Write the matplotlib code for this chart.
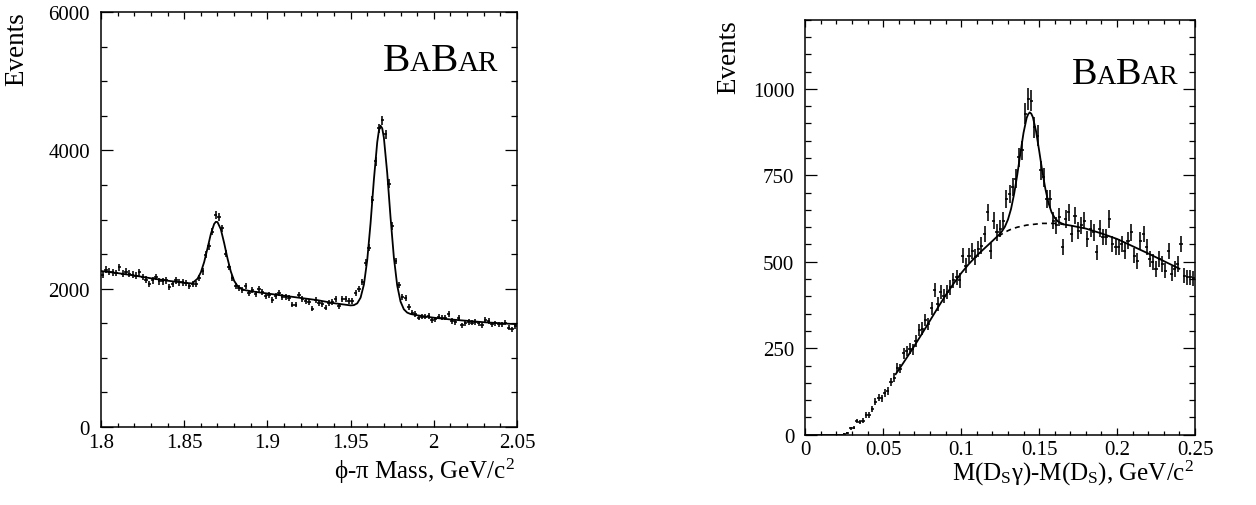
import numpy as np
import matplotlib
matplotlib.use("Agg")
import matplotlib.pyplot as plt
from matplotlib.ticker import MultipleLocator, FixedLocator, FixedFormatter
from matplotlib.transforms import IdentityTransform

# ---------------- data ----------------
# Left panel: phi-pi invariant mass, bins of 0.002 GeV from 1.80
left_bin_lo = 1.80
left_bin_w = 0.002
left_counts = [2202, 2274, 2245, 2235, 2226, 2307, 2216, 2245, 2216, 2202,
               2187, 2235, 2168, 2130, 2072, 2120, 2168, 2106, 2106, 2120,
               2024, 2072, 2120, 2091, 2091, 2082, 2034, 2072, 2072, 2154,
               2250, 2490, 2610, 2826, 3066, 3032, 2874, 2504, 2312, 2154,
               2043, 2010, 1976, 2043, 1938, 1986, 1928, 1995, 1947, 1899,
               1914, 1832, 1890, 1938, 1880, 1880, 1866, 1770, 1770, 1914,
               1846, 1822, 1808, 1712, 1832, 1788, 1774, 1726, 1788, 1808,
               1856, 1750, 1846, 1856, 1822, 1822, 1942, 2000, 2096, 2375,
               2591, 3289, 3841, 4322, 4433, 4236, 3519, 2904, 2399, 2048,
               1880, 1861, 1740, 1654, 1630, 1582, 1596, 1596, 1606, 1548,
               1558, 1596, 1582, 1582, 1630, 1534, 1519, 1582, 1471, 1500,
               1519, 1510, 1519, 1500, 1471, 1548, 1534, 1486, 1500, 1486,
               1486, 1510, 1437, 1413, 1462]
left_fit_x = [1.800, 1.810, 1.820, 1.830, 1.840, 1.850, 1.855,
              1.856, 1.858, 1.860, 1.862, 1.864, 1.866, 1.868, 1.869, 1.870,
              1.872, 1.874, 1.876, 1.878, 1.880, 1.882, 1.884, 1.886,
              1.890, 1.900, 1.910, 1.920, 1.930, 1.940, 1.950,
              1.952, 1.954, 1.956, 1.958, 1.960, 1.962, 1.964, 1.966, 1.967,
              1.968, 1.969, 1.970, 1.972, 1.974, 1.976, 1.978, 1.980, 1.982,
              1.984, 1.986,
              1.990, 2.000, 2.010, 2.020, 2.030, 2.040, 2.050]
left_fit_y = [2255, 2225, 2190, 2150, 2115, 2085, 2075,
              2103, 2144, 2236, 2385, 2583, 2790, 2936, 2966, 2963,
              2859, 2661, 2439, 2249, 2114, 2040, 2001, 1982,
              1963, 1930, 1898, 1866, 1834, 1790, 1758,
              1762, 1788, 1870, 2059, 2414, 2948, 3578, 4117, 4284,
              4356, 4319, 4182, 3674, 3030, 2453, 2047, 1814, 1702,
              1654, 1634,
              1615, 1580, 1555, 1535, 1515, 1500, 1486]
left_xticks = [1.80, 1.85, 1.90, 1.95, 2.00, 2.05]
left_xtick_labels = ["1.8", "1.85", "1.9", "1.95", "2", "2.05"]
left_yticks = [0, 2000, 4000, 6000]
left_ytick_labels = ["0", "2000", "4000", "6000"]

# Right panel: M(Ds gamma) - M(Ds), bins of 0.002 GeV from 0
right_bin_lo = 0.0
right_bin_w = 0.002
right_counts = [0, 0, 0, 0, 0, 0, 0, 0, 0, 0,
                0, 0, 3, 5, 19, 20, 40, 37, 41, 57,
                57, 73, 95, 107, 105, 120, 126, 152, 165, 194,
                191, 235, 242, 249, 247, 271, 302, 307, 332, 320,
                365, 418, 378, 412, 402, 412, 426, 446, 455, 446,
                518, 489, 518, 532, 513, 537, 547, 580, 643, 532,
                619, 585, 595, 619, 682, 696, 716, 740, 802, 822,
                928, 971, 966, 889, 865, 764, 744, 682, 682, 619,
                605, 629, 542, 624, 643, 580, 633, 590, 605, 619,
                566, 595, 585, 527, 595, 571, 571, 624, 552, 542,
                542, 552, 532, 561, 585, 518, 503, 561, 580, 542,
                508, 499, 479, 508, 494, 474, 532, 465, 479, 494,
                552, 460, 455, 455, 452]
right_fit_x = [0.058, 0.060, 0.065, 0.070, 0.075, 0.080, 0.085, 0.090,
               0.095, 0.100, 0.105, 0.110, 0.115, 0.120,
               0.124, 0.126, 0.128, 0.130, 0.132, 0.134, 0.136, 0.138,
               0.140, 0.142, 0.143, 0.144, 0.145, 0.146, 0.148, 0.150,
               0.152, 0.154, 0.156, 0.158, 0.160, 0.162, 0.164, 0.166,
               0.170, 0.180, 0.190, 0.200, 0.210, 0.220, 0.230, 0.240]
right_fit_y = [175, 188, 222, 257, 293, 330, 367, 403,
               436, 467, 494, 518, 539, 560,
               577, 587, 601, 622, 653, 697, 752, 814,
               873, 916, 927, 932, 928, 918, 878, 822,
               763, 711, 670, 643, 627, 617, 612, 608,
               605, 596, 582, 566, 545, 524, 502, 480]
right_bkg_x = [0.124, 0.126, 0.128, 0.130, 0.132, 0.134, 0.136, 0.138,
               0.140, 0.142, 0.144, 0.146, 0.148, 0.150, 0.152, 0.154,
               0.156, 0.158, 0.160, 0.162, 0.164, 0.166]
right_bkg_y = [574, 580, 585, 590, 594, 597, 600, 602,
               604, 606, 607, 608, 609, 610, 611, 611,
               611, 611, 611, 610, 609, 608]
right_xticks = [0.0, 0.05, 0.10, 0.15, 0.20, 0.25]
right_xtick_labels = ["0", "0.05", "0.1", "0.15", "0.2", "0.25"]
right_yticks = [0, 250, 500, 750, 1000]
right_ytick_labels = ["0", "250", "500", "750", "1000"]

# ---------------- style ----------------
plt.rcParams["font.family"] = ["Liberation Serif", "DejaVu Serif"]
plt.rcParams["mathtext.fontset"] = "custom"
plt.rcParams["mathtext.rm"] = "Liberation Serif"
plt.rcParams["mathtext.it"] = "Liberation Serif:italic"
plt.rcParams["mathtext.default"] = "rm"

W, H = 1256, 506
fig = plt.figure(figsize=(W / 100, H / 100), dpi=100)


def axrect(x0, y0, x1, y1):
    return [x0 / W, 1 - y1 / H, (x1 - x0) / W, (y1 - y0) / H]


axL = fig.add_axes(axrect(101, 13, 517, 428))
axR = fig.add_axes(axrect(805.3, 20.7, 1195, 435.7))


def draw_hist(ax, lo, w, counts):
    counts = np.asarray(counts, dtype=float)
    centers = lo + w * (np.arange(len(counts)) + 0.5)
    ax.errorbar(centers, counts, xerr=w / 2, yerr=np.sqrt(counts),
                fmt="none", ecolor="black", elinewidth=1.15, capsize=0)


def style_axes(ax, xlim, ylim, xt, xtl, yt, ytl, xminor, yminor):
    ax.set_xlim(*xlim)
    ax.set_ylim(*ylim)
    ax.xaxis.set_major_locator(FixedLocator(xt))
    ax.xaxis.set_major_formatter(FixedFormatter(xtl))
    ax.yaxis.set_major_locator(FixedLocator(yt))
    ax.yaxis.set_major_formatter(FixedFormatter(ytl))
    ax.xaxis.set_minor_locator(MultipleLocator(xminor))
    ax.yaxis.set_minor_locator(MultipleLocator(yminor))
    ax.tick_params(which="both", direction="in", top=True, right=True,
                   width=0.9, labelsize=15)
    ax.tick_params(axis="x", which="major", length=5, pad=4)
    ax.tick_params(axis="x", which="minor", length=3.2)
    ax.tick_params(axis="y", which="major", length=8.6, pad=8)
    ax.tick_params(axis="y", which="minor", length=4.3)
    for s in ax.spines.values():
        s.set_linewidth(1.1)


# Left panel
draw_hist(axL, left_bin_lo, left_bin_w, left_counts)
axL.plot(left_fit_x, left_fit_y, color="black", lw=1.3)
style_axes(axL, (1.80, 2.05), (0, 6000), left_xticks, left_xtick_labels,
           left_yticks, left_ytick_labels, 0.01, 500)

# Right panel
draw_hist(axR, right_bin_lo, right_bin_w, right_counts)
axR.plot(right_bkg_x, right_bkg_y, color="black", lw=1.2,
         linestyle=(0, (3, 2.5)))
axR.plot(right_fit_x, right_fit_y, color="black", lw=1.3)
style_axes(axR, (0.0, 0.25), (0, 1200), right_xticks, right_xtick_labels,
           right_yticks, right_ytick_labels, 0.01, 50)

# Axis titles
fig.text(17 / W, 1 - 12 / H, "Events", rotation=90, ha="center", va="top",
         fontsize=19.5)
fig.text(729 / W, 1 - 20 / H, "Events", rotation=90, ha="center", va="top",
         fontsize=19.5)
fig.text(515 / W, 1 - 479 / H, "\u03d5-\u03c0 Mass, GeV/c$^2$", ha="right",
         va="baseline", fontsize=18)
fig.text(1194 / W, 1 - 481 / H, "M(D$_\\mathrm{S}$\u03b3)-M(D$_\\mathrm{S}$), GeV/c$^2$",
         ha="right", va="baseline", fontsize=18)

# BaBar logos
renderer = fig.canvas.get_renderer()


def babar(x_px, base_px, big=29.5, small=21):
    pieces = [("B", big), ("A", small), ("B", big), ("AR", small)]
    x = x_px
    y = H - base_px
    for s, sz in pieces:
        t = fig.text(x, y, s, fontsize=sz, ha="left", va="baseline",
                     transform=IdentityTransform())
        bb = t.get_window_extent(renderer)
        x = bb.x1 - 0.5


babar(383, 71)
babar(1072, 84, big=27.5, small=19.5)

fig.savefig("out.png", dpi=100)
